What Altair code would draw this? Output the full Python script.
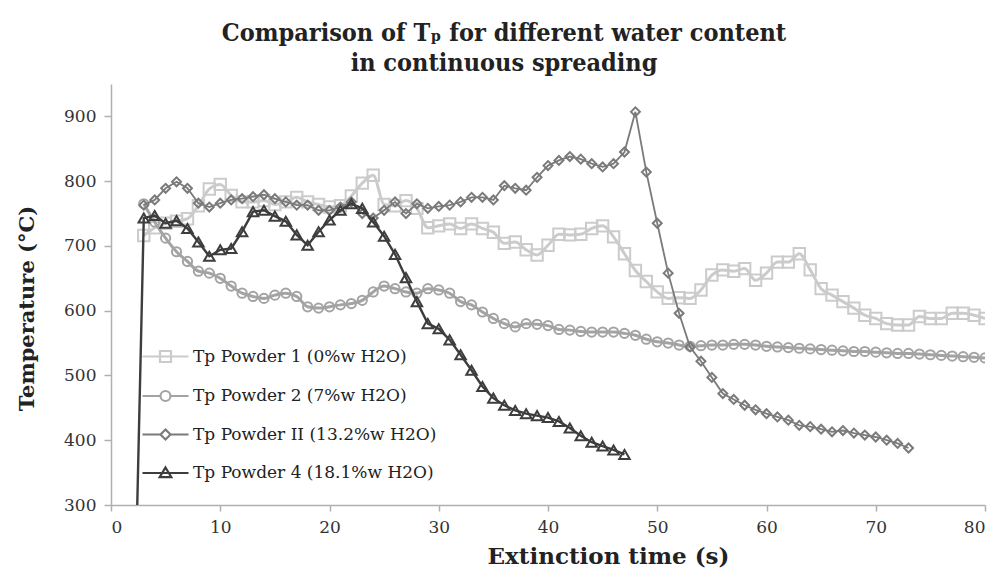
import altair as alt
import pandas as pd

# ---------------- data ----------------
labels = [
    "Tp Powder 1 (0%w H2O)",
    "Tp Powder 2 (7%w H2O)",
    "Tp Powder II (13.2%w H2O)",
    "Tp Powder 4 (18.1%w H2O)",
]

t_p1 = list(range(3, 81))
v_p1 = [716, 728, 735, 738, 742, 762, 788, 795, 778, 768, 768, 770, 764, 768, 775, 768,
        764, 760, 762, 777, 797, 809, 764, 762, 770, 758, 728, 731, 734, 727, 734, 727,
        721, 704, 706, 694, 686, 701, 718, 717, 718, 727, 731, 714, 688, 662, 645, 629,
        619, 620, 619, 632, 655, 663, 661, 665, 647, 658, 675, 675, 688, 663, 634, 624,
        614, 604, 593, 588, 580, 578, 578, 591, 588, 588, 596, 596, 593, 588]

t_p2 = list(range(3, 81))
v_p2 = [765, 737, 712, 691, 676, 661, 658, 650, 638, 627, 622, 619, 624, 627, 622, 606,
        604, 606, 609, 611, 616, 629, 638, 634, 629, 627, 634, 632, 627, 614, 609, 598,
        588, 580, 575, 580, 579, 577, 571, 570, 568, 567, 567, 567, 565, 562, 556, 552,
        550, 547, 545, 546, 547, 547, 548, 548, 547, 545, 544, 543, 542, 541, 540, 539,
        538, 537, 537, 536, 535, 534, 534, 533, 532, 531, 530, 529, 528, 527]

t_p3 = list(range(3, 74))
v_p3 = [763, 771, 789, 799, 789, 766, 760, 766, 771, 773, 776, 779, 773, 768, 763, 763,
        755, 755, 760, 768, 750, 743, 755, 768, 750, 765, 758, 761, 763, 768, 775, 775,
        771, 793, 789, 786, 806, 824, 832, 838, 834, 827, 822, 827, 845, 907, 814, 735,
        658, 596, 544, 522, 497, 472, 463, 454, 447, 441, 436, 431, 423, 421, 417, 413,
        415, 411, 408, 405, 400, 395, 388]

t_p4 = [2] + list(range(3, 48))
v_p4 = [0, 743, 747, 735, 739, 727, 706, 684, 694, 696, 722, 753, 755, 746, 738, 717,
        701, 722, 740, 755, 765, 758, 737, 715, 687, 651, 614, 580, 572, 555, 532, 508,
        483, 465, 454, 446, 441, 438, 435, 429, 419, 407, 397, 391, 385, 378]

x_ticks = [0, 10, 20, 30, 40, 50, 60, 70, 80]
y_ticks = [300, 400, 500, 600, 700, 800, 900]

# ---------------- styling ----------------
series = [
    dict(t=t_p1, v=v_p1, color="#cbcbcb", lw=3, shape="square", size=130, interp="monotone"),
    dict(t=t_p2, v=v_p2, color="#a3a3a3", lw=3, shape="circle", size=85, interp="monotone"),
    dict(t=t_p3, v=v_p3, color="#7a7a7a", lw=1.8, shape="diamond", size=80, interp="linear"),
    dict(t=t_p4, v=v_p4, color="#3d3d3d", lw=2.4, shape="triangle-up", size=110, interp="linear"),
]
colors = [s["color"] for s in series]

legend_paths = [
    "M-2.3,0H2.3M-0.55,-0.55H0.55V0.55H-0.55Z",
    "M-2.3,0H-0.5M0.5,0H2.3M-0.5,0A0.5,0.5,0,1,0,0.5,0A0.5,0.5,0,1,0,-0.5,0Z",
    "M-2.3,0H-0.5M0.5,0H2.3M-0.5,0L0,-0.5L0.5,0L0,0.5Z",
    "M-2.3,0H2.3M0,-0.55L0.58,0.42H-0.58Z",
]

SERIF = "DejaVu Serif"

xscale = alt.Scale(domain=[0, 80], nice=False, zero=False)
yscale = alt.Scale(domain=[300, 950], nice=False, zero=False)

xaxis = alt.Axis(values=x_ticks, title="Extinction time (s)", grid=False,
                 titleX=497, titleY=51, titleBaseline="middle", titleAlign="center",
                 titleFontSize=23)
yaxis = alt.Axis(values=y_ticks, title="Temperature (°C)", grid=False,
                 titleX=-84, titleY=224, titleAngle=-90, titleAlign="center",
                 titleBaseline="middle")

X = alt.X("t:Q", scale=xscale, axis=xaxis)
Y = alt.Y("v:Q", scale=yscale, axis=yaxis)

layers = []
for i, s in enumerate(series):
    df = pd.DataFrame({"t": s["t"], "v": s["v"], "series": labels[i]})
    line = alt.Chart(df).mark_line(
        color=s["color"], strokeWidth=s["lw"], interpolate=s["interp"], clip=True
    ).encode(x=X, y=Y)
    pts = alt.Chart(df).transform_filter(alt.datum.v >= 300).mark_point(
        shape=s["shape"], size=s["size"], filled=False, color=s["color"],
        strokeWidth=2, opacity=1, clip=True
    ).encode(x=X, y=Y)
    layers += [line, pts]

# legend carrier (drawn outside the domain, clipped away)
leg_df = pd.DataFrame({"series": labels, "t": [-50] * 4, "v": [0] * 4})
legend = alt.Legend(
    title=None, orient="none", legendX=43, legendY=261, padding=0,
    labelFont=SERIF, labelFontSize=17, labelColor="#222222", labelOffset=16,
    rowPadding=17.5, symbolStrokeWidth=2.2, symbolSize=400, labelLimit=400,
)
legend_layer = alt.Chart(leg_df).mark_point(
    filled=False, size=400, strokeWidth=2.2, opacity=1, clip=True
).encode(
    x=X, y=Y,
    color=alt.Color("series:N", scale=alt.Scale(domain=labels, range=colors), legend=legend, sort=labels),
    shape=alt.Shape("series:N", scale=alt.Scale(domain=labels, range=legend_paths), legend=legend, sort=labels),
)
layers.append(legend_layer)

chart = alt.layer(*layers).properties(
    width=874, height=421,
    title=alt.Title(
        ["Comparison of  T\u209a for different water content", "in continuous spreading"],
        font="DejaVu Serif Condensed", fontSize=25, fontWeight="bold", color="#222222",
        anchor="middle", dx=-44, offset=8, lineHeight=30,
    ),
    autosize=alt.AutoSizeParams(type="none"),
    padding={"left": 103, "top": 76, "right": 3, "bottom": 63},
).configure_view(stroke=None).configure_axis(
    domainColor="#b0b0b0", domainWidth=1.5, tickColor="#b0b0b0", tickWidth=1.5,
    labelFont=SERIF, labelFontSize=17, labelColor="#333333",
    titleFont=SERIF, titleFontWeight="bold", titleColor="#222222", titleFontSize=21,
).configure_axisX(tickSize=6, labelPadding=8).configure_axisY(tickSize=7, labelPadding=8)

chart.save("out.html", embed_options={"renderer": "svg", "actions": False})
